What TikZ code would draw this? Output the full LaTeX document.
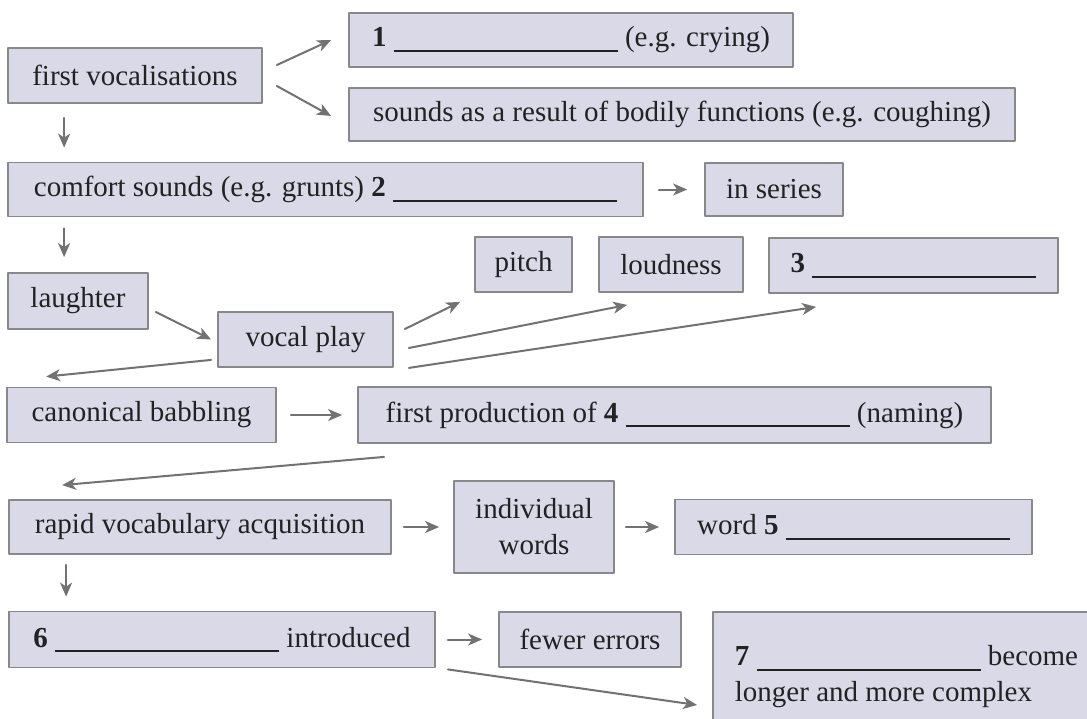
\documentclass[tikz,border=0pt]{standalone}
\usepackage{fontspec}
\setmainfont{Liberation Serif}
\usetikzlibrary{arrows.meta,calc}
\definecolor{boxfill}{HTML}{DAD9E7}
\definecolor{boxline}{HTML}{888888}
\definecolor{arrowgray}{HTML}{727272}
\definecolor{ink}{HTML}{222222}
\newcommand{\gapline}{\rule[-2.5pt]{112pt}{1pt}}
\tikzset{
    every picture/.style={line cap=round,line join=round},
    stagebox/.style={draw=boxline,fill=boxfill,line width=0.9pt,inner sep=3pt,
      text=ink,font=\fontsize{14.5}{18}\selectfont,align=center},
    flowarrow/.style={-{Stealth[length=7pt,width=6pt,inset=2pt]},draw=arrowgray,
      line width=1pt}
}
\begin{document}
\begin{tikzpicture}[x=0.5pt,y=-0.5pt]
    \path[use as bounding box,fill=white] (0,0) rectangle (1087,718);
    \clip (0,0) rectangle (1087,718);
    % row 1
    \node[stagebox,minimum width=127pt,minimum height=27.5pt] (fv) at (135,75.5) {first vocalisations};
    \node[stagebox,minimum width=222pt,minimum height=27pt] (b1) at (571,40) {\textbf{1} \gapline{} (e.g. crying)};
    \node[stagebox,minimum width=333pt,minimum height=26.5pt] (snd) at (682,114.5) {sounds as a result of bodily functions (e.g. coughing)};
    % row 2
    \node[stagebox,minimum width=317.5pt,minimum height=27pt] (cs) at (325.5,189.5) {comfort sounds (e.g. grunts) \textbf{2} \gapline};
    \node[stagebox,minimum width=69pt,minimum height=26.5pt] (ser) at (774,189.5) {in series};
    % row 3
    \node[stagebox,minimum width=70pt,minimum height=28pt] (la) at (78,301) {laughter};
    \node[stagebox,minimum width=87.5pt,minimum height=27.5pt] (vp) at (305.5,339.5) {vocal play};
    \node[stagebox,minimum width=48.5pt,minimum height=27.5pt] (pi) at (523.5,264.5) {pitch};
    \node[stagebox,minimum width=72pt,minimum height=27.5pt] (lo) at (671,264.5) {loudness};
    \node[stagebox,minimum width=144.5pt,minimum height=27.5pt] (b3) at (913.5,265.5) {\textbf{3} \gapline};
    % row 4
    \node[stagebox,minimum width=134.5pt,minimum height=27.5pt] (cb) at (141.5,415) {canonical babbling};
    \node[stagebox,minimum width=316.5pt,minimum height=28pt] (fp) at (674.5,415) {first production of \textbf{4} \gapline{} (naming)};
    % row 5
    \node[stagebox,minimum width=191pt,minimum height=27pt] (ra) at (200,527) {rapid vocabulary acquisition};
    \node[stagebox,minimum width=80pt,minimum height=46pt] (ind) at (534,527) {individual\\words};
    \node[stagebox,minimum width=178.5pt,minimum height=27.5pt] (w5) at (853.5,527) {word \textbf{5} \gapline};
    % row 6
    \node[stagebox,minimum width=213pt,minimum height=28pt] (six) at (222,639.5) {\textbf{6} \gapline{} introduced};
    \node[stagebox,minimum width=91pt,minimum height=27.5pt] (few) at (590,639.5) {fewer errors};
    \node[stagebox,align=left,minimum width=193.5pt,minimum height=65pt] (sev) at (906.5,677) {\textbf{7} \gapline{} become\\longer and more complex};
    % arrows
    \draw[flowarrow] ($(fv.east)+(14,-10.5)$) -- ($(b1.west)+(-17,0)$);
    \draw[flowarrow] ($(fv.east)+(14,10.5)$) -- ($(snd.west)+(-17,1.5)$);
    \draw[flowarrow] ($(fv.south west)+(57,14)$) -- ($(cs.north west)+(57,-14)$);
    \draw[flowarrow] ($(cs.east)+(15,0)$) -- ($(ser.west)+(-17,0)$);
    \draw[flowarrow] ($(cs.south west)+(57,11)$) -- ($(la.north west)+(57,-15)$);
    \draw[flowarrow] ($(la.east)+(7,11)$) -- ($(vp.west)+(-6,0)$);
    \draw[flowarrow] ($(vp.east)+(11,-10.5)$) -- ($(pi.south west)+(-14,9)$);
    \draw[flowarrow] ($(vp.east)+(15,8.5)$) -- ($(lo.south west)+(29,12)$);
    \draw[flowarrow] ($(vp.south east)+(15,0)$) -- ($(b3.south west)+(48,13)$);
    \draw[flowarrow] ($(vp.south west)+(-6,-8)$) -- ($(cb.north west)+(40,-10)$);
    \draw[flowarrow] ($(cb.east)+(14,0)$) -- ($(fp.west)+(-15,0)$);
    \draw[flowarrow] ($(fp.south west)+(27,13)$) -- ($(ra.north west)+(54,-14)$);
    \draw[flowarrow] ($(ra.east)+(12,0)$) -- ($(ind.west)+(-14,0)$);
    \draw[flowarrow] ($(ind.east)+(11,0)$) -- ($(w5.west)+(-15,0)$);
    \draw[flowarrow] ($(ra.south west)+(58,10)$) -- ($(six.north west)+(58,-14)$);
    \draw[flowarrow] ($(six.east)+(12,0)$) -- ($(few.west)+(-16,0)$);
    \draw[flowarrow] ($(six.south east)+(12,1)$) -- ($(sev.west)+(-15,28)$);
\end{tikzpicture}
\end{document}
